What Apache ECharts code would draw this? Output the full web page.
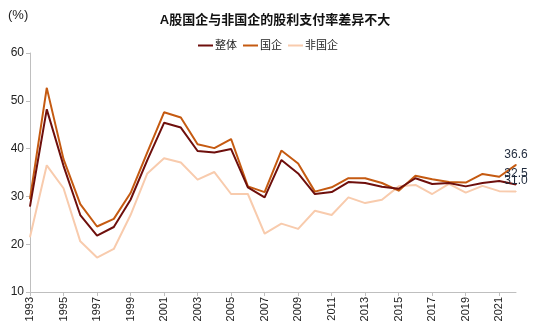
<!DOCTYPE html>
<html>
<head>
<meta charset="utf-8">
<script src="https://cdn.jsdelivr.net/npm/echarts@6/dist/echarts.min.js"></script>
<style>
html,body{margin:0;padding:0;background:#fff;}
#main{width:550px;height:328px;}
</style>
</head>
<body>
<div id="main"></div>
<script>
const years = ['1993','1994','1995','1996','1997','1998','1999','2000','2001','2002','2003','2004','2005','2006','2007','2008','2009','2010','2011','2012','2013','2014','2015','2016','2017','2018','2019','2020','2021','2022'];
const overall = [27.9,48.2,36.4,26.1,21.8,23.6,29.3,37.6,45.4,44.4,39.5,39.2,39.9,31.9,29.8,37.6,34.8,30.5,30.9,33.0,32.8,32.0,31.6,33.8,32.6,32.8,32.1,32.8,33.2,32.5];
const soe = [29.5,52.7,37.8,28.4,23.7,25.3,30.7,39.2,47.6,46.5,40.9,40.1,42.0,32.1,30.9,39.6,36.9,31.0,31.9,33.8,33.8,32.8,31.2,34.3,33.6,33.0,32.9,34.7,34.1,36.6];
const nonSoe = [21.5,36.5,31.7,20.6,17.2,19.0,26.1,34.8,38.0,37.1,33.5,35.1,30.5,30.5,22.2,24.3,23.2,27.0,26.1,29.8,28.6,29.3,32.1,32.4,30.5,32.6,30.8,32.2,31.1,31.0];
const names = ['整体','国企','非国企'];
const colors = ['#6E0F0C','#C55A11','#F8CBAD'];
const yMin = 10, yMax = 60, yStep = 10;

const chart = echarts.init(document.getElementById('main'), null, {renderer:'canvas'});
const font = 'Arial, "Liberation Sans", "Noto Sans CJK SC", sans-serif';
function mk(name, data, color, z){
  const last = data.length - 1;
  return {
    name: name, type:'line', symbol:'circle', symbolSize:1, showSymbol:true,
    data: data,
    lineStyle:{width:2, color: color}, itemStyle:{color: color},
    markPoint:{
      symbol:'circle', symbolSize:1, itemStyle:{color: color},
      label:{show:true, position:'top', distance:4, color:'#1F2A3C', fontSize:12, fontFamily:font,
        formatter: p => Number(p.value).toFixed(1)},
      data:[{coord:[years[last], data[last]], value: data[last]}]
    },
    z: z
  };
}
chart.setOption({
  animation:false,
  textStyle:{fontFamily:font},
  title:{text:'A股国企与非国企的股利支付率差异不大', left:270, textAlign:'center', top:9,
    textStyle:{fontSize:13, fontWeight:'bold', color:'#111', fontFamily:font}},
  legend:{data:names, top:35, left:193, itemWidth:15, itemHeight:2, itemGap:6,
    icon:'rect', textStyle:{fontSize:11, color:'#222', padding:[0,0,0,-3]}},
  graphic:[{type:'text', left:8, top:9, style:{text:'(%)', fontSize:13, fill:'#222', fontFamily:font}}],
  grid:{left:30, right:34, top:53, bottom:36, containLabel:false},
  xAxis:{type:'category', data:years, boundaryGap:false,
    axisLine:{lineStyle:{color:'#BFBFBF', width:1}},
    axisTick:{show:true, interval:1, length:4, lineStyle:{color:'#BFBFBF'}},
    axisLabel:{interval:1, rotate:90, fontSize:11, color:'#222', margin:5}},
  yAxis:{type:'value', min:yMin, max:yMax, interval:yStep,
    splitLine:{show:false},
    axisLine:{show:true, lineStyle:{color:'#BFBFBF'}},
    axisTick:{show:true, length:4, lineStyle:{color:'#BFBFBF'}},
    axisLabel:{fontSize:12, color:'#222', margin:6}},
  series:[mk(names[0], overall, colors[0], 3), mk(names[1], soe, colors[1], 2), mk(names[2], nonSoe, colors[2], 1)]
});
</script>
</body>
</html>
